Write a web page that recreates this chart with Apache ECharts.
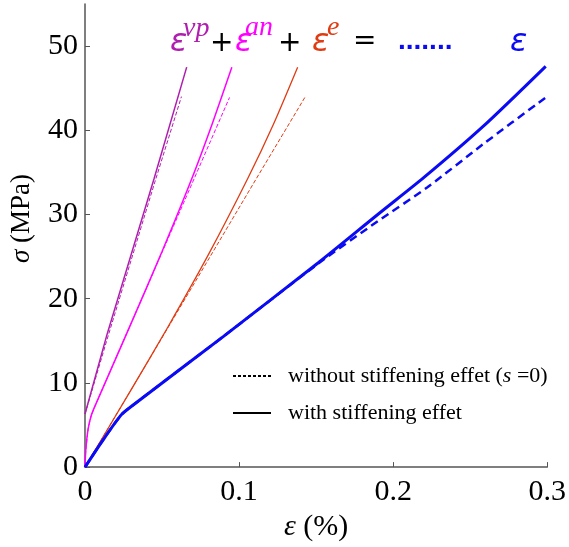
<!DOCTYPE html>
<html>
<head>
<meta charset="utf-8">
<script src="https://cdn.jsdelivr.net/npm/echarts@6/dist/echarts.min.js"></script>
<style>html,body{margin:0;padding:0;background:#fff;}#c{width:569px;height:547px;}</style>
</head>
<body>
<div id="c"></div>
<script>
// strain (%) , stress (MPa)
const xTicks = [0, 0.1, 0.2, 0.3];
const yTicks = [0, 10, 20, 30, 40, 50];

const vpSolid   = [[0,6.3],[0.0139,15.5],[0.0449,34.3],[0.066,47.5]];
const vpDashed  = [[0,6.3],[0.0139,14.9],[0.0449,33.6],[0.0626,44.0]];
const anSolid   = [[0,0],[0.0005,2],[0.002,4.5],[0.004,6.1],[0.0066,7.3],[0.03,17.1],[0.05,25.6],[0.0694,34.3],[0.083,41.0],[0.0953,47.5]];
const anDashed  = [[0,0],[0.0005,2],[0.002,4.5],[0.004,6.1],[0.0066,7.3],[0.05,25.5],[0.0938,43.9]];
const eSolid    = [[0,0],[0.03,9.2],[0.054,16.7],[0.08,25.2],[0.1057,34.3],[0.122,40.6],[0.138,47.5]];
const eDashed   = [[0,0],[0.054,16.6],[0.111,34.2],[0.143,44.0]];
const totSolid  = [[0,0],[0.012,3.3],[0.0235,6.2],[0.03,7.2],[0.0897,15.5],[0.1516,24.3],[0.19,30.0],[0.22,34.4],[0.258,40.4],[0.299,47.6]];
const totDashed = [[0,0],[0.012,3.3],[0.0235,6.2],[0.03,7.2],[0.0897,15.5],[0.1516,24.2],[0.19,29.2],[0.222,33.2],[0.258,38.3],[0.299,43.9]];

const C_VP = '#b01eb0', C_AN = '#ff00ff', C_E = '#e03c14', C_T = '#0a0af5';
const serif = 'Liberation Serif';
const sans = 'DejaVu Sans';

function ln(name, data, color, width, type, z, smooth) {
  return { name, type: 'line', data, showSymbol: false, symbol: 'none', symbolSize: 0, silent: true, z: z || 2,
    smooth: smooth ? 0.25 : false,
    itemStyle: { color }, lineStyle: { color, width, type }, legendHoverLink: false };
}

const chart = echarts.init(document.getElementById('c'));
const topTexts = [
  { t: 'ε', x: 170, y: 27, c: C_VP, s: 32, i: true, f: sans },
  { t: 'vp', x: 183, y: 15, c: C_VP, s: 28, i: true, f: serif },
  { t: '+', x: 210, y: 30, c: '#000', s: 28, f: sans },
  { t: 'ε', x: 235, y: 27, c: C_AN, s: 32, i: true, f: sans },
  { t: 'an', x: 245, y: 14, c: C_AN, s: 28, i: true, f: serif },
  { t: '+', x: 278, y: 30, c: '#000', s: 28, f: sans },
  { t: 'ε', x: 312, y: 27, c: C_E, s: 32, i: true, f: sans },
  { t: 'e', x: 327, y: 14, c: C_E, s: 28, i: true, f: serif },
  { t: '=', x: 353, y: 28, c: '#000', s: 28, f: sans },
  { t: '.......', x: 398, y: 27, c: C_T, s: 28, b: true, f: 'Liberation Sans' },
  { t: 'ε', x: 510, y: 27, c: C_T, s: 32, i: true, f: sans }
];
chart.setOption({
  animation: false,
  grid: { left: 83, right: 17, top: 4, bottom: 75, containLabel: false },
  xAxis: {
    type: 'value', min: 0, max: 0.3, interval: 0.1,
    name: '{i|ε} (%)', nameLocation: 'middle', nameGap: 44,
    nameTextStyle: { fontFamily: serif, fontSize: 30, color: '#000',
      rich: { i: { fontFamily: serif, fontStyle: 'italic', fontSize: 30, color: '#000' } } },
    axisLine: { lineStyle: { color: '#555', width: 1.5 } },
    axisTick: { inside: true, length: 5, lineStyle: { color: '#555' } },
    axisLabel: { fontFamily: serif, fontSize: 30, color: '#000', margin: 10,
      formatter: v => String(Math.round(v * 10) / 10), customValues: xTicks },
    splitLine: { show: false }
  },
  yAxis: {
    type: 'value', min: 0, max: 55,
    name: '{i|σ} (MPa)', nameLocation: 'middle', nameGap: 50,
    nameTextStyle: { fontFamily: serif, fontSize: 27, color: '#000', padding: [0, 0, 0, 34],
      rich: { i: { fontFamily: serif, fontStyle: 'italic', fontSize: 27, color: '#000' } } },
    axisLine: { show: true, lineStyle: { color: '#555', width: 1.5 } },
    axisTick: { show: true, inside: true, length: 5, lineStyle: { color: '#555' }, customValues: yTicks },
    axisLabel: { fontFamily: serif, fontSize: 30, color: '#000', margin: 7, customValues: yTicks },
    splitLine: { show: false }
  },
  legend: {
    orient: 'vertical', left: 227, top: 360, itemWidth: 38, itemHeight: 12, itemGap: 15,
    selectedMode: false,
    itemStyle: { opacity: 0 },
    data: ['without', 'with'],
    formatter: n => n === 'without' ? '{a|without stiffening effet (}{i|s}{a| =0)}' : '{a|with stiffening effet}',
    textStyle: { padding: [0, 0, 0, 12],
      rich: { a: { fontFamily: serif, fontSize: 22, color: '#000' },
              i: { fontFamily: serif, fontStyle: 'italic', fontSize: 22, color: '#000' } } }
  },
  graphic: topTexts.map(o => ({
    type: 'text', left: o.x, top: o.y, silent: true,
    style: { text: o.t, fill: o.c, fontSize: o.s, fontFamily: o.f,
      fontStyle: o.i ? 'italic' : 'normal', fontWeight: o.b ? 'bold' : 'normal' }
  })),
  series: [
    ln('without', [], '#000', 1, [3, 2]),
    ln('with', [], '#000', 1.2, 'solid'),
    ln('vpD', vpDashed, C_VP, 1, [4, 2]),
    ln('vp', vpSolid, C_VP, 1.5, 'solid'),
    ln('anD', anDashed, C_AN, 1, [4, 2]),
    ln('an', anSolid, C_AN, 1.5, 'solid', 2, true),
    ln('eD', eDashed, C_E, 1, [4, 2]),
    ln('e', eSolid, C_E, 1.3, 'solid', 2, true),
    ln('totD', totDashed, C_T, 2.5, [8, 5], 3, true),
    ln('tot', totSolid, C_T, 3, 'solid', 3, true)
  ]
});
</script>
</body>
</html>
